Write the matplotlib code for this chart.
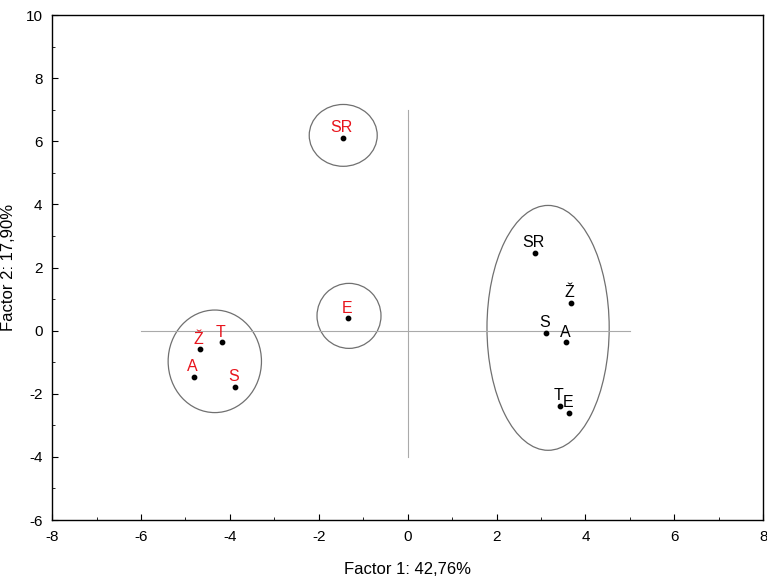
import numpy as np
import matplotlib.pyplot as plt
from matplotlib.patches import Ellipse
from matplotlib.ticker import MultipleLocator

plt.rcParams['font.family'] = ['Liberation Sans', 'DejaVu Sans']
plt.rcParams['axes.unicode_minus'] = False

# red group (first set of points)
red_labels = ['Ž', 'T', 'A', 'S', 'SR', 'E']
red_x = [-4.67, -4.18, -4.81, -3.89, -1.45, -1.34]
red_y = [-0.59, -0.37, -1.47, -1.79, 6.10, 0.39]

# black group
blk_labels = ['SR', 'Ž', 'S', 'A', 'T', 'E']
blk_x = [2.87, 3.68, 3.12, 3.57, 3.43, 3.64]
blk_y = [2.47, 0.87, -0.08, -0.37, -2.39, -2.61]

# ellipses: center x, center y, width, height
ell_cx = [-4.34, -1.45, -1.32, 3.16]
ell_cy = [-0.97, 6.19, 0.47, 0.09]
ell_w = [2.10, 1.53, 1.44, 2.75]
ell_h = [3.25, 1.96, 2.06, 7.76]

fig = plt.figure(figsize=(7.67, 5.83), dpi=100)
ax = fig.add_axes([0.068, 0.108, 0.927, 0.866])

ax.plot([0, 0], [-4, 7], color='#aaaaaa', lw=0.8)
ax.plot([-6, 5], [0, 0], color='#aaaaaa', lw=0.8)

for cx, cy, w, h in zip(ell_cx, ell_cy, ell_w, ell_h):
    ax.add_patch(Ellipse((cx, cy), w, h, fill=False, edgecolor='#707070', lw=0.9))

ax.scatter(red_x, red_y, s=10, color='black', zorder=3)
ax.scatter(blk_x, blk_y, s=10, color='black', zorder=3)

for lab, x, y in zip(red_labels, red_x, red_y):
    ax.annotate(lab, (x, y), xytext=(-1, 2), textcoords='offset points',
                ha='center', va='bottom', color='#e8141c', fontsize=11.5)
for lab, x, y in zip(blk_labels, blk_x, blk_y):
    ax.annotate(lab, (x, y), xytext=(-1, 2), textcoords='offset points',
                ha='center', va='bottom', color='black', fontsize=11.5)

ax.set_xlim(-8, 8)
ax.set_ylim(-6, 10)
ax.xaxis.set_major_locator(MultipleLocator(2))
ax.xaxis.set_minor_locator(MultipleLocator(1))
ax.yaxis.set_major_locator(MultipleLocator(2))
ax.yaxis.set_minor_locator(MultipleLocator(1))
ax.tick_params(which='both', direction='in', labelsize=11, pad=7)
ax.tick_params(which='major', length=4)
ax.tick_params(which='minor', length=2)
for sp in ax.spines.values():
    sp.set_linewidth(1.0)

ax.set_xlabel('Factor 1: 42,76%', fontsize=12, labelpad=13)
ax.set_ylabel('Factor 2: 17,90%', fontsize=12)
ax.yaxis.set_label_coords(-0.051, 0.5)

fig.savefig('out.png', dpi=100)
